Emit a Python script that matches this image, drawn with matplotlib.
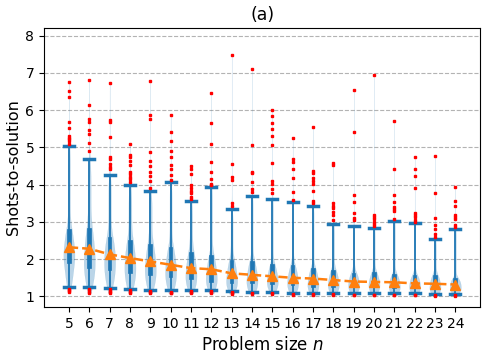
import numpy as np
import matplotlib
matplotlib.use("Agg")
import matplotlib.pyplot as plt

n_sizes = list(range(5, 25))

whis_hi = [5.03, 4.69, 4.25, 4.00, 3.82, 4.08, 3.55, 3.94, 3.35, 3.70,
           3.62, 3.53, 3.43, 2.94, 2.88, 2.83, 3.02, 2.97, 2.54, 2.81]
q3 = [2.80, 2.83, 2.59, 2.51, 2.41, 2.32, 2.20, 2.11, 1.98, 1.96,
      1.87, 1.84, 1.76, 1.71, 1.64, 1.66, 1.60, 1.58, 1.58, 1.50]
med = [2.25, 2.20, 2.10, 2.00, 1.92, 1.85, 1.77, 1.70, 1.62, 1.60,
       1.55, 1.52, 1.48, 1.45, 1.42, 1.42, 1.39, 1.38, 1.37, 1.34]
q1 = [1.89, 1.76, 1.71, 1.62, 1.58, 1.53, 1.46, 1.40, 1.35, 1.35,
      1.34, 1.30, 1.26, 1.26, 1.25, 1.25, 1.22, 1.22, 1.20, 1.20]
whis_lo = [1.26, 1.26, 1.23, 1.20, 1.18, 1.16, 1.17, 1.17, 1.15, 1.12,
           1.13, 1.09, 1.09, 1.09, 1.08, 1.08, 1.08, 1.08, 1.06, 1.07]
means = [2.32, 2.28, 2.13, 2.03, 1.94, 1.85, 1.76, 1.73, 1.62, 1.58,
         1.54, 1.50, 1.48, 1.44, 1.40, 1.39, 1.38, 1.35, 1.34, 1.32]

fliers_hi = [
    [6.76, 6.51, 6.35, 5.69, 5.51, 5.30, 5.26, 5.22, 5.16, 5.08],
    [6.80, 6.13, 5.76, 5.69, 5.46, 5.36, 5.11, 4.90],
    [6.72, 5.73, 5.68, 5.28, 4.75, 4.69, 4.56, 4.48, 4.41],
    [5.09, 4.79, 4.75, 4.63, 4.53, 4.33, 4.28, 4.21, 4.16, 4.08],
    [6.79, 5.87, 5.77, 4.87, 4.63, 4.51, 4.35, 4.24, 4.10, 3.90],
    [5.88, 5.42, 5.18, 4.91, 4.73, 4.54, 4.42, 4.26, 4.12],
    [4.51, 4.41, 4.28, 3.98, 3.90, 3.83, 3.77, 3.68, 3.61],
    [6.45, 5.66, 5.08, 4.60, 4.35, 4.15, 4.03, 3.99],
    [7.47, 4.55, 4.21, 4.12, 3.50, 3.43],
    [7.10, 5.06, 4.33, 4.30, 4.06, 3.87, 3.79],
    [6.00, 5.85, 5.65, 5.50, 5.30, 5.06, 4.59, 4.10, 4.01, 3.87, 3.77],
    [5.25, 4.70, 4.61, 4.41, 4.17, 3.81, 3.59],
    [5.55, 4.37, 4.30, 4.18, 4.10, 4.03, 3.84, 3.57, 3.50],
    [4.59, 4.53, 3.50, 3.43, 3.36, 3.27, 3.18, 3.05],
    [6.55, 5.40, 3.72, 3.54, 3.23, 3.10, 3.05],
    [6.95, 3.18, 3.12, 3.07, 3.01, 2.94, 2.89],
    [5.70, 4.41, 3.72, 3.54, 3.41, 3.35, 3.30, 3.08],
    [4.75, 4.42, 4.23, 3.92, 3.25, 3.18, 3.12, 3.05, 3.00],
    [4.77, 3.78, 3.11, 2.92, 2.80, 2.67, 2.60],
    [3.93, 3.55, 3.43, 3.18, 3.12, 3.08, 2.92, 2.87],
]
fliers_lo = [
    [1.21, 1.17, 1.14, 1.11],
    [1.21, 1.17, 1.13, 1.10],
    [1.19, 1.15, 1.12, 1.09],
    [1.16, 1.13, 1.10],
    [1.14, 1.11, 1.09],
    [1.13, 1.10, 1.08],
    [1.14, 1.11, 1.08],
    [1.14, 1.11, 1.08],
    [1.12, 1.09, 1.07],
    [1.09, 1.07],
    [1.10, 1.07],
    [1.06, 1.04],
    [1.06, 1.04],
    [1.06, 1.04],
    [1.05, 1.03],
    [1.05, 1.03],
    [1.05, 1.03],
    [1.05, 1.03],
    [1.04, 1.02],
    [1.04, 1.02],
]

C0 = "#1f77b4"
C1 = "#ff7f0e"

fig = plt.figure(figsize=(4.89, 3.56), dpi=100)
ax = fig.add_axes([0.090, 0.138, 0.892, 0.783])

# violin shapes derived from the quartile summary (mass per quartile interval)
vpstats = []
for i in range(len(n_sizes)):
    lo_all = min(fliers_lo[i] + [whis_lo[i]])
    hi_all = max(fliers_hi[i] + [whis_hi[i]])
    edges = [lo_all, whis_lo[i], q1[i], med[i], q3[i], whis_hi[i], hi_all]
    mass = [0.01, 0.24, 0.25, 0.25, 0.24, 0.01]
    coords = np.linspace(lo_all, hi_all, 600)
    dens = np.zeros_like(coords)
    for k in range(6):
        a, b = edges[k], edges[k + 1]
        if b > a:
            dens[(coords >= a) & (coords <= b)] = mass[k] / (b - a)
    step = coords[1] - coords[0]
    sig = 0.28 * (q3[i] - q1[i]) / step
    kx = np.arange(-int(4 * sig) - 1, int(4 * sig) + 2)
    kern = np.exp(-0.5 * (kx / sig) ** 2)
    kern /= kern.sum()
    pad = len(kx)
    dens = np.convolve(np.pad(dens, pad, mode="constant"), kern, mode="same")[pad:-pad]
    vpstats.append(dict(coords=coords, vals=dens, mean=means[i], median=med[i],
                        min=lo_all, max=hi_all, quantiles=[]))

parts = ax.violin(vpstats, positions=n_sizes, widths=0.55, showmeans=False,
                  showextrema=False, showmedians=False)
for b in parts["bodies"]:
    b.set_facecolor(C0)
    b.set_edgecolor(C0)
    b.set_alpha(0.3)
    b.set_linewidth(0.15)

bstats = []
for i in range(len(n_sizes)):
    bstats.append(dict(med=med[i], q1=q1[i], q3=q3[i], whislo=whis_lo[i],
                       whishi=whis_hi[i], fliers=fliers_hi[i] + fliers_lo[i]))
ax.bxp(bstats, positions=n_sizes, widths=0.18, capwidths=0.5, patch_artist=True,
       showfliers=True,
       boxprops=dict(facecolor=C0, edgecolor=C0, linewidth=0.5),
       whiskerprops=dict(color=C0, linewidth=1.3),
       capprops=dict(color=C0, linewidth=2.5),
       medianprops=dict(color=C0, linewidth=0.5),
       flierprops=dict(marker="s", markersize=1.5, markerfacecolor="red",
                       markeredgecolor="red", linestyle="none"))

ax.plot(n_sizes, means, linestyle="--", color=C1, linewidth=1.8, marker="^",
        markersize=7, zorder=5)

ax.set_xticks(n_sizes)
ax.set_xticklabels([str(v) for v in n_sizes])
ax.set_yticks([1, 2, 3, 4, 5, 6, 7, 8])
ax.set_xlim(3.775, 25.225)
ax.set_ylim(0.72, 8.2)
ax.yaxis.grid(True, linestyle="--", color="0.7", linewidth=0.8)
ax.set_axisbelow(True)
ax.tick_params(labelsize=10)
ax.set_xlabel("Problem size $n$", fontsize=12)
ax.set_ylabel("Shots-to-solution", fontsize=11.5, labelpad=3)
ax.set_title("(a)", fontsize=12.5)

fig.savefig("out.png", dpi=100)
